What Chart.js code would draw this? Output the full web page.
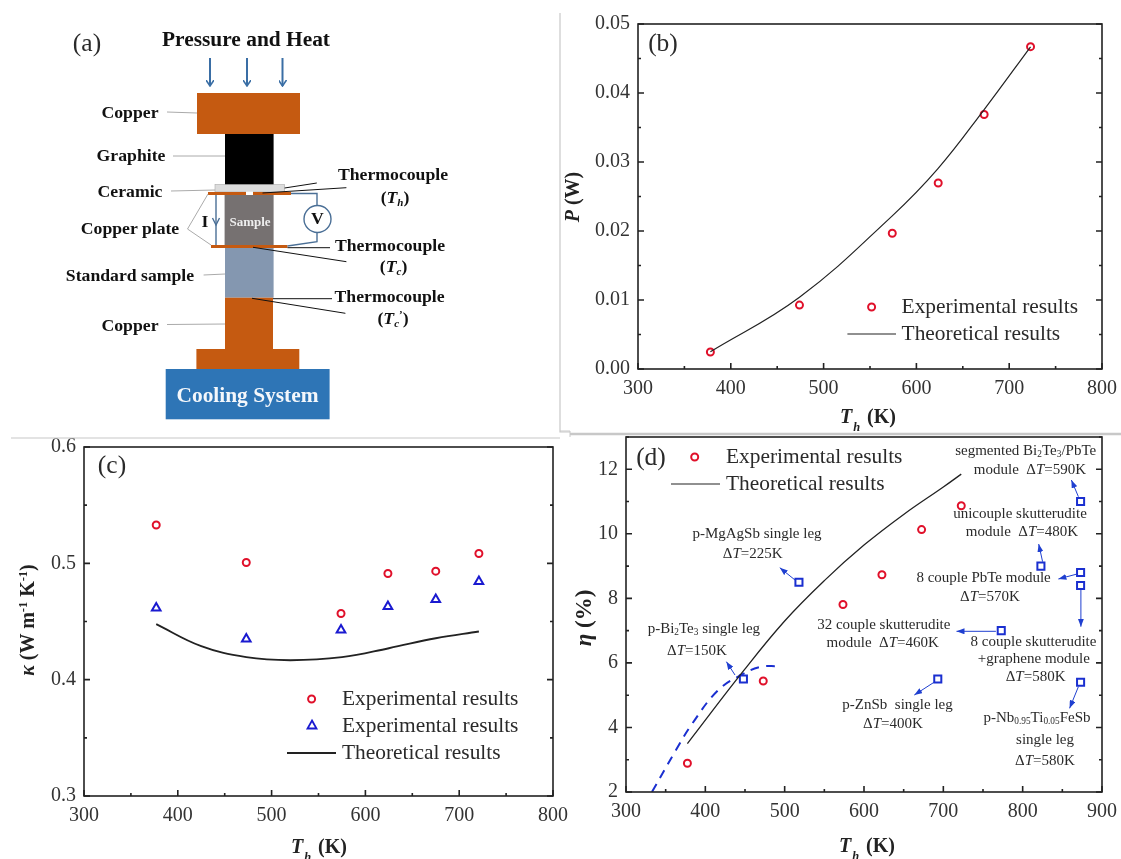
<!DOCTYPE html>
<html>
<head>
<meta charset="utf-8">
<script src="https://cdn.jsdelivr.net/npm/chart.js@4"></script>
<style>
html, body { margin: 0; padding: 0; background: #fff; overflow: hidden; }
#page { position: relative; width: 1121px; height: 859px; font-family: "Liberation Serif", serif; color: #222; }
canvas { position: absolute; }
svg { position: absolute; left: 0; top: 0; }
.t { position: absolute; white-space: nowrap; transform: translate(-50%, -50%); line-height: 1; }
.l { transform: translate(0, -50%); }
.r { transform: translate(-50%, -50%) rotate(-90deg); }
.s1 { font-size: 15px; color: #2a2a2a; }
.s2 { font-size: 21.4px; color: #2a2a2a; }
.s3 { font-size: 25.5px; color: #2a2a2a; }
.b1 { font-size: 17.7px; font-weight: bold; color: #111; }
.b2 { font-size: 20px; font-weight: bold; color: #222; }
.b3 { font-size: 21.4px; font-weight: bold; color: #111; }
sub, sup { font-size: .62em; line-height: 0; }
sub { vertical-align: -.25em; }
sup { vertical-align: .55em; }
sub.low { vertical-align: -.65em; margin-left: 1px; margin-right: 2px; }
</style>
</head>
<body>
<div id="page">
<canvas id="chart-b"></canvas>
<canvas id="chart-c"></canvas>
<canvas id="chart-d"></canvas>
<svg width="1121" height="859" id="overlay">
  <defs>
    <marker id="head-a" markerWidth="7" markerHeight="8" refX="6" refY="4" orient="auto" markerUnits="userSpaceOnUse">
      <path d="M0 0 L6 4 L0 8" fill="none" stroke="#3a6ea5" stroke-width="1.6"/>
    </marker>
    <marker id="head-d" markerWidth="9" markerHeight="6" refX="8" refY="3" orient="auto" markerUnits="userSpaceOnUse">
      <path d="M0 0 L8 3 L0 6 Z" fill="#1f3fd0"/>
    </marker>
  </defs>

  <!-- panel separators -->
  <g stroke="#c8c8c8" fill="none">
    <path d="M560 13 V432 H570" stroke-width="1.2"/>
    <path d="M11 438 H560" stroke-width="1.2"/>
    <path d="M560 431 H570 V437" stroke-width="1"/>
    <path d="M570 434 H1121" stroke-width="2.5"/>
  </g>

  <!-- (a) schematic -->
  <g stroke="#3a6ea5" stroke-width="2" marker-end="url(#head-a)">
    <line x1="210" y1="58" x2="210" y2="86"/>
    <line x1="247" y1="58" x2="247" y2="86"/>
    <line x1="282.5" y1="58" x2="282.5" y2="86"/>
  </g>
  <rect x="197" y="93" width="103" height="41" fill="#c55a11"/>
  <rect x="225" y="134" width="48.6" height="51" fill="#000"/>
  <rect x="215" y="184.5" width="69.6" height="7.5" fill="#dcdcdc" stroke="#aaa" stroke-width=".6"/>
  <rect x="208" y="192" width="83" height="3" fill="#c55a11"/>
  <rect x="246" y="191.5" width="7" height="3.5" fill="#fff"/>
  <rect x="224.6" y="195" width="49" height="50" fill="#767171"/>
  <rect x="211" y="245" width="76.5" height="3" fill="#c55a11"/>
  <rect x="225" y="248" width="48.6" height="49.7" fill="#8497b0"/>
  <rect x="225" y="297.7" width="48" height="51.3" fill="#c55a11"/>
  <rect x="196.4" y="349" width="102.9" height="20" fill="#c55a11"/>
  <rect x="165.7" y="369" width="163.9" height="50.3" fill="#2e75b6"/>
  <!-- leaders -->
  <g stroke="#aaa" stroke-width="1" fill="none">
    <path d="M167 112 L197 113"/>
    <path d="M173 156 H225"/>
    <path d="M171 191 L215 190"/>
    <path d="M208 194 L187.5 229 L211 245"/>
    <path d="M203.6 275 L225 274"/>
    <path d="M167 324.5 L225 324"/>
  </g>
  <g stroke="#111" stroke-width="1" fill="none">
    <path d="M284.6 188 L316.8 183"/>
    <path d="M262.5 193 L346.4 187.7"/>
    <path d="M287.5 247.7 H330"/>
    <path d="M253 247.3 L346.4 261.7"/>
    <path d="M273 298.7 H332"/>
    <path d="M252 298.3 L345.4 313.3"/>
  </g>
  <!-- circuit -->
  <g stroke="#4a6f96" stroke-width="1.4" fill="none">
    <path d="M291 193.5 H317 V205.5"/>
    <path d="M317 232.5 V241.7 L287.5 246"/>
    <circle cx="317.5" cy="219" r="13.5" fill="#fff"/>
    <path d="M216 195 V245"/>
    <path d="M212.5 218 L216 225 L219.5 218"/>
  </g>

  <!-- legend markers -->
  <g fill="none" stroke="#e0102a" stroke-width="2">
    <circle cx="871.6" cy="307" r="3.5"/>
    <circle cx="311.6" cy="699" r="3.5"/>
    <circle cx="694.7" cy="457" r="3.5"/>
  </g>
  <path d="M312 720.5 L316.5 728.5 H307.5 Z" fill="none" stroke="#1a1ad0" stroke-width="1.8"/>
  <g stroke="#222">
    <line x1="847.4" y1="334" x2="896" y2="334" stroke-width="1.2"/>
    <line x1="287" y1="753" x2="336" y2="753" stroke-width="1.8"/>
    <line x1="671" y1="484" x2="720" y2="484" stroke-width="1.2"/>
  </g>
  <g id="arrows" stroke="#1f3fd0" stroke-width="1" marker-end="url(#head-d)"></g>
</svg>
</div>

<script>
// --- Data ---

const powerExpT = [378, 474, 574, 623.5, 673, 723];
const powerExp  = [0.00246, 0.00926, 0.01967, 0.02695, 0.03689, 0.04672];
const powerTheoryT = [378, 474, 574, 623, 673, 723];
const powerTheory  = [0.0025, 0.0104, 0.0222, 0.0290, 0.0376, 0.0467];

const kappaT      = [377, 473, 574, 624, 675, 721];
const kappaCircle = [0.533, 0.5007, 0.4569, 0.4913, 0.4933, 0.5085];
const kappaTri    = [0.4617, 0.435, 0.4428, 0.463, 0.469, 0.4844];
const kappaTheoryT = [377, 425, 473, 520, 575, 625, 675, 721];
const kappaTheory  = [0.4477, 0.4288, 0.4193, 0.4167, 0.4193, 0.427, 0.4356, 0.4414];

const etaExpT = [377.4, 473, 573.5, 622.6, 672.6, 722.6];
const etaExp  = [2.89, 5.44, 7.81, 8.73, 10.13, 10.87];
const etaTheoryT = [377.4, 447, 500, 550, 600, 650, 700, 722.6];
const etaTheory  = [3.5, 5.72, 7.3, 8.55, 9.65, 10.6, 11.45, 11.85];
const etaDashT = [332.7, 363, 383, 416, 447, 470, 491];
const etaDash  = [2, 3.3, 4.1, 5.15, 5.65, 5.88, 5.9];
const etaRefT = [448, 518, 693, 773, 823, 873, 873, 873, 873];
const etaRef  = [5.5, 8.5, 5.5, 7, 9, 8.8, 8.4, 11, 5.4];

// --- Helpers ---

const SERIF = "'Liberation Serif', serif";
const RED  = "#e0102a";
const BLUE = "#1a1ad0";

function pts(xs, ys) {
    return xs.map((x, i) => ({ x: x, y: ys[i] }));
}

function markers(xs, ys, style, color, radius) {
    return {
        data: pts(xs, ys), showLine: false, pointStyle: style, pointRadius: radius,
        pointBorderColor: color, pointBackgroundColor: "transparent", pointBorderWidth: 2
    };
}

function curve(xs, ys, width) {
    return {
        data: pts(xs, ys), showLine: true, pointRadius: 0,
        borderColor: "#222", borderWidth: width, tension: 0.4
    };
}

// frame and inward ticks, major on even ticks (Origin style axes)
const frameTicks = {
    id: "frameTicks",
    afterDraw(chart) {
        const { ctx, chartArea: a, scales } = chart;
        ctx.save();
        ctx.strokeStyle = "#222";
        ctx.lineWidth = 1.6;
        ctx.strokeRect(a.left, a.top, a.right - a.left, a.bottom - a.top);
        ctx.beginPath();
        scales.x.ticks.forEach((t, i) => {
            const px = scales.x.getPixelForValue(t.value);
            ctx.moveTo(px, a.bottom);
            ctx.lineTo(px, a.bottom - (i % 2 ? 3 : 6));
        });
        scales.y.ticks.forEach((t, i) => {
            const py = scales.y.getPixelForValue(t.value);
            const len = i % 2 ? 3 : 6;
            ctx.moveTo(a.left, py);
            ctx.lineTo(a.left + len, py);
            ctx.moveTo(a.right, py);
            ctx.lineTo(a.right - len, py);
        });
        ctx.stroke();
        ctx.restore();
    }
};

// box is the plot area in page pixels
function makeChart(id, box, xAxis, yAxis, datasets) {
    const m = { left: 60, top: 20, right: 30, bottom: 34 };
    const canvas = document.getElementById(id);
    canvas.width  = box.right - box.left + m.left + m.right;
    canvas.height = box.bottom - box.top + m.top + m.bottom;
    canvas.style.left = (box.left - m.left) + "px";
    canvas.style.top  = (box.top - m.top) + "px";

    const font = { family: SERIF, size: 20 };
    new Chart(canvas, {
        type: "scatter",
        data: { datasets: datasets },
        plugins: [frameTicks],
        options: {
            responsive: false,
            animation: false,
            devicePixelRatio: 1,
            layout: { padding: { top: m.top, right: m.right, left: 0, bottom: 0 } },
            plugins: { legend: { display: false }, tooltip: { enabled: false } },
            scales: {
                x: {
                    type: "linear", min: xAxis.min, max: xAxis.max,
                    grid: { display: false }, border: { display: false },
                    afterFit: s => { s.height = m.bottom; },
                    ticks: {
                        stepSize: xAxis.step, autoSkip: false, maxRotation: 0, padding: 0,
                        color: "#333", font: font,
                        callback: (v, i) => i % 2 ? "" : String(v)
                    }
                },
                y: {
                    type: "linear", min: yAxis.min, max: yAxis.max,
                    grid: { display: false }, border: { display: false },
                    afterFit: s => { s.width = m.left; },
                    ticks: {
                        stepSize: yAxis.step, autoSkip: false, padding: 0,
                        color: "#333", font: font,
                        callback: (v, i) => i % 2 ? "" : v.toFixed(yAxis.digits)
                    }
                }
            }
        }
    });
}

// --- Charts ---

makeChart("chart-b", { left: 638, top: 24, right: 1102, bottom: 369 },
    { min: 300, max: 800, step: 50 },
    { min: 0, max: 0.05, step: 0.005, digits: 2 },
    [ curve(powerTheoryT, powerTheory, 1.2),
      markers(powerExpT, powerExp, "circle", RED, 3.5) ]);

makeChart("chart-c", { left: 84, top: 447, right: 553, bottom: 796 },
    { min: 300, max: 800, step: 50 },
    { min: 0.3, max: 0.6, step: 0.05, digits: 1 },
    [ curve(kappaTheoryT, kappaTheory, 1.8),
      markers(kappaT, kappaCircle, "circle", RED, 3.5),
      markers(kappaT, kappaTri, "triangle", BLUE, 5) ]);

makeChart("chart-d", { left: 626, top: 437, right: 1102, bottom: 792 },
    { min: 300, max: 900, step: 50 },
    { min: 2, max: 13, step: 1, digits: 0 },
    [ curve(etaTheoryT, etaTheory, 1.3),
      Object.assign(curve(etaDashT, etaDash, 2), { borderColor: "#1a2fd0", borderDash: [9, 7] }),
      markers(etaExpT, etaExp, "circle", RED, 3.5),
      markers(etaRefT, etaRef, "rect", "#1a2fd0", 5) ]);

// --- Text ---

const dT = v => `Δ<i>T</i>=${v}K`;
const xTitle = '<i>T<sub class="low">h</sub></i> (K)';

const labels = [
    // panel (a)
    [87, 43, "(a)", "s3"],
    [246, 40, "Pressure and Heat", "b3"],
    [130, 113, "Copper", "b1"],
    [131, 156, "Graphite", "b1"],
    [130, 191.5, "Ceramic", "b1"],
    [130, 229, "Copper plate", "b1"],
    [130, 275.7, "Standard sample", "b1"],
    [130, 325.7, "Copper", "b1"],
    [205, 222, "I", "b1"],
    [250, 221, "Sample", "b1", "color:#eee;font-size:13px"],
    [317.5, 219, "V", "b1"],
    [393, 175, "Thermocouple", "b1"],
    [395, 198, "(<i>T<sub>h</sub></i>)", "b1"],
    [390, 245.7, "Thermocouple", "b1"],
    [393.6, 267, "(<i>T<sub>c</sub></i>)", "b1"],
    [389.6, 296.7, "Thermocouple", "b1"],
    [393, 319, "(<i>T<sub>c</sub></i><sup>’</sup>)", "b1"],
    [247.5, 396, "Cooling System", "b3", "color:#f4f7fb"],
    // panel (b)
    [663, 43, "(b)", "s3"],
    [901.6, 307, "Experimental results", "s2 l"],
    [901.6, 334, "Theoretical results", "s2 l"],
    [572, 197, "<i>P</i> (W)", "b2 r"],
    [868, 417, xTitle, "b2"],
    // panel (c)
    [112, 465, "(c)", "s3"],
    [342, 699, "Experimental results", "s2 l"],
    [342, 726, "Experimental results", "s2 l"],
    [342, 753, "Theoretical results", "s2 l"],
    [27, 620, "<i>κ</i> (W m<sup>-1</sup> K<sup>-1</sup>)", "b2 r"],
    [319, 847, xTitle, "b2"],
    // panel (d)
    [651, 457, "(d)", "s3"],
    [726, 457, "Experimental results", "s2 l"],
    [726, 484, "Theoretical results", "s2 l"],
    [583, 618, "<i>η</i> (%)", "b2 r", "font-size:23px"],
    [867, 846, xTitle, "b2"],
    [1025.7, 450, "segmented Bi<sub>2</sub>Te<sub>3</sub>/PbTe", "s1"],
    [1030, 469, "module&nbsp; " + dT(590), "s1"],
    [1020, 513, "unicouple skutterudite", "s1"],
    [1022, 531, "module&nbsp; " + dT(480), "s1"],
    [983.6, 577, "8 couple PbTe module", "s1"],
    [990, 596, dT(570), "s1"],
    [883.8, 624, "32 couple skutterudite", "s1"],
    [882.7, 642, "module&nbsp; " + dT(460), "s1"],
    [1033.5, 641, "8 couple skutterudite", "s1"],
    [1033.8, 658, "+graphene module", "s1"],
    [1035.6, 676, dT(580), "s1"],
    [897.5, 704, "p-ZnSb&nbsp; single leg", "s1"],
    [893, 723, dT(400), "s1"],
    [1037, 717, "p-Nb<sub>0.95</sub>Ti<sub>0.05</sub>FeSb", "s1"],
    [1045, 739, "single leg", "s1"],
    [1045, 760, dT(580), "s1"],
    [757, 533, "p-MgAgSb single leg", "s1"],
    [752.7, 553, dT(225), "s1"],
    [703.9, 628, "p-Bi<sub>2</sub>Te<sub>3</sub> single leg", "s1"],
    [697, 650, dT(150), "s1"]
];

const page = document.getElementById("page");
labels.forEach(([x, y, html, cls, style]) => {
    const el = document.createElement("div");
    el.className = "t " + cls;
    el.style.left = x + "px";
    el.style.top  = y + "px";
    if (style) el.style.cssText += style;
    el.innerHTML = html;
    page.appendChild(el);
});

// --- Annotation arrows in panel (d) ---

const arrowLines = [
    [735, 675, 726.4, 661.7],
    [795, 580, 779.8, 567.7],
    [1078.4, 496.7, 1071.4, 480],
    [1042.6, 561.7, 1038.7, 544],
    [1076, 574.3, 1058.4, 579],
    [1080.9, 590, 1080.9, 626.7],
    [995.9, 631.3, 956.5, 631.3],
    [934, 682.3, 914.3, 695],
    [1078.4, 686.7, 1069.6, 708.3]
];
const arrowGroup = document.getElementById("arrows");
arrowLines.forEach(([x1, y1, x2, y2]) => {
    const line = document.createElementNS("http://www.w3.org/2000/svg", "line");
    line.setAttribute("x1", x1);
    line.setAttribute("y1", y1);
    line.setAttribute("x2", x2);
    line.setAttribute("y2", y2);
    arrowGroup.appendChild(line);
});
</script>
</body>
</html>
